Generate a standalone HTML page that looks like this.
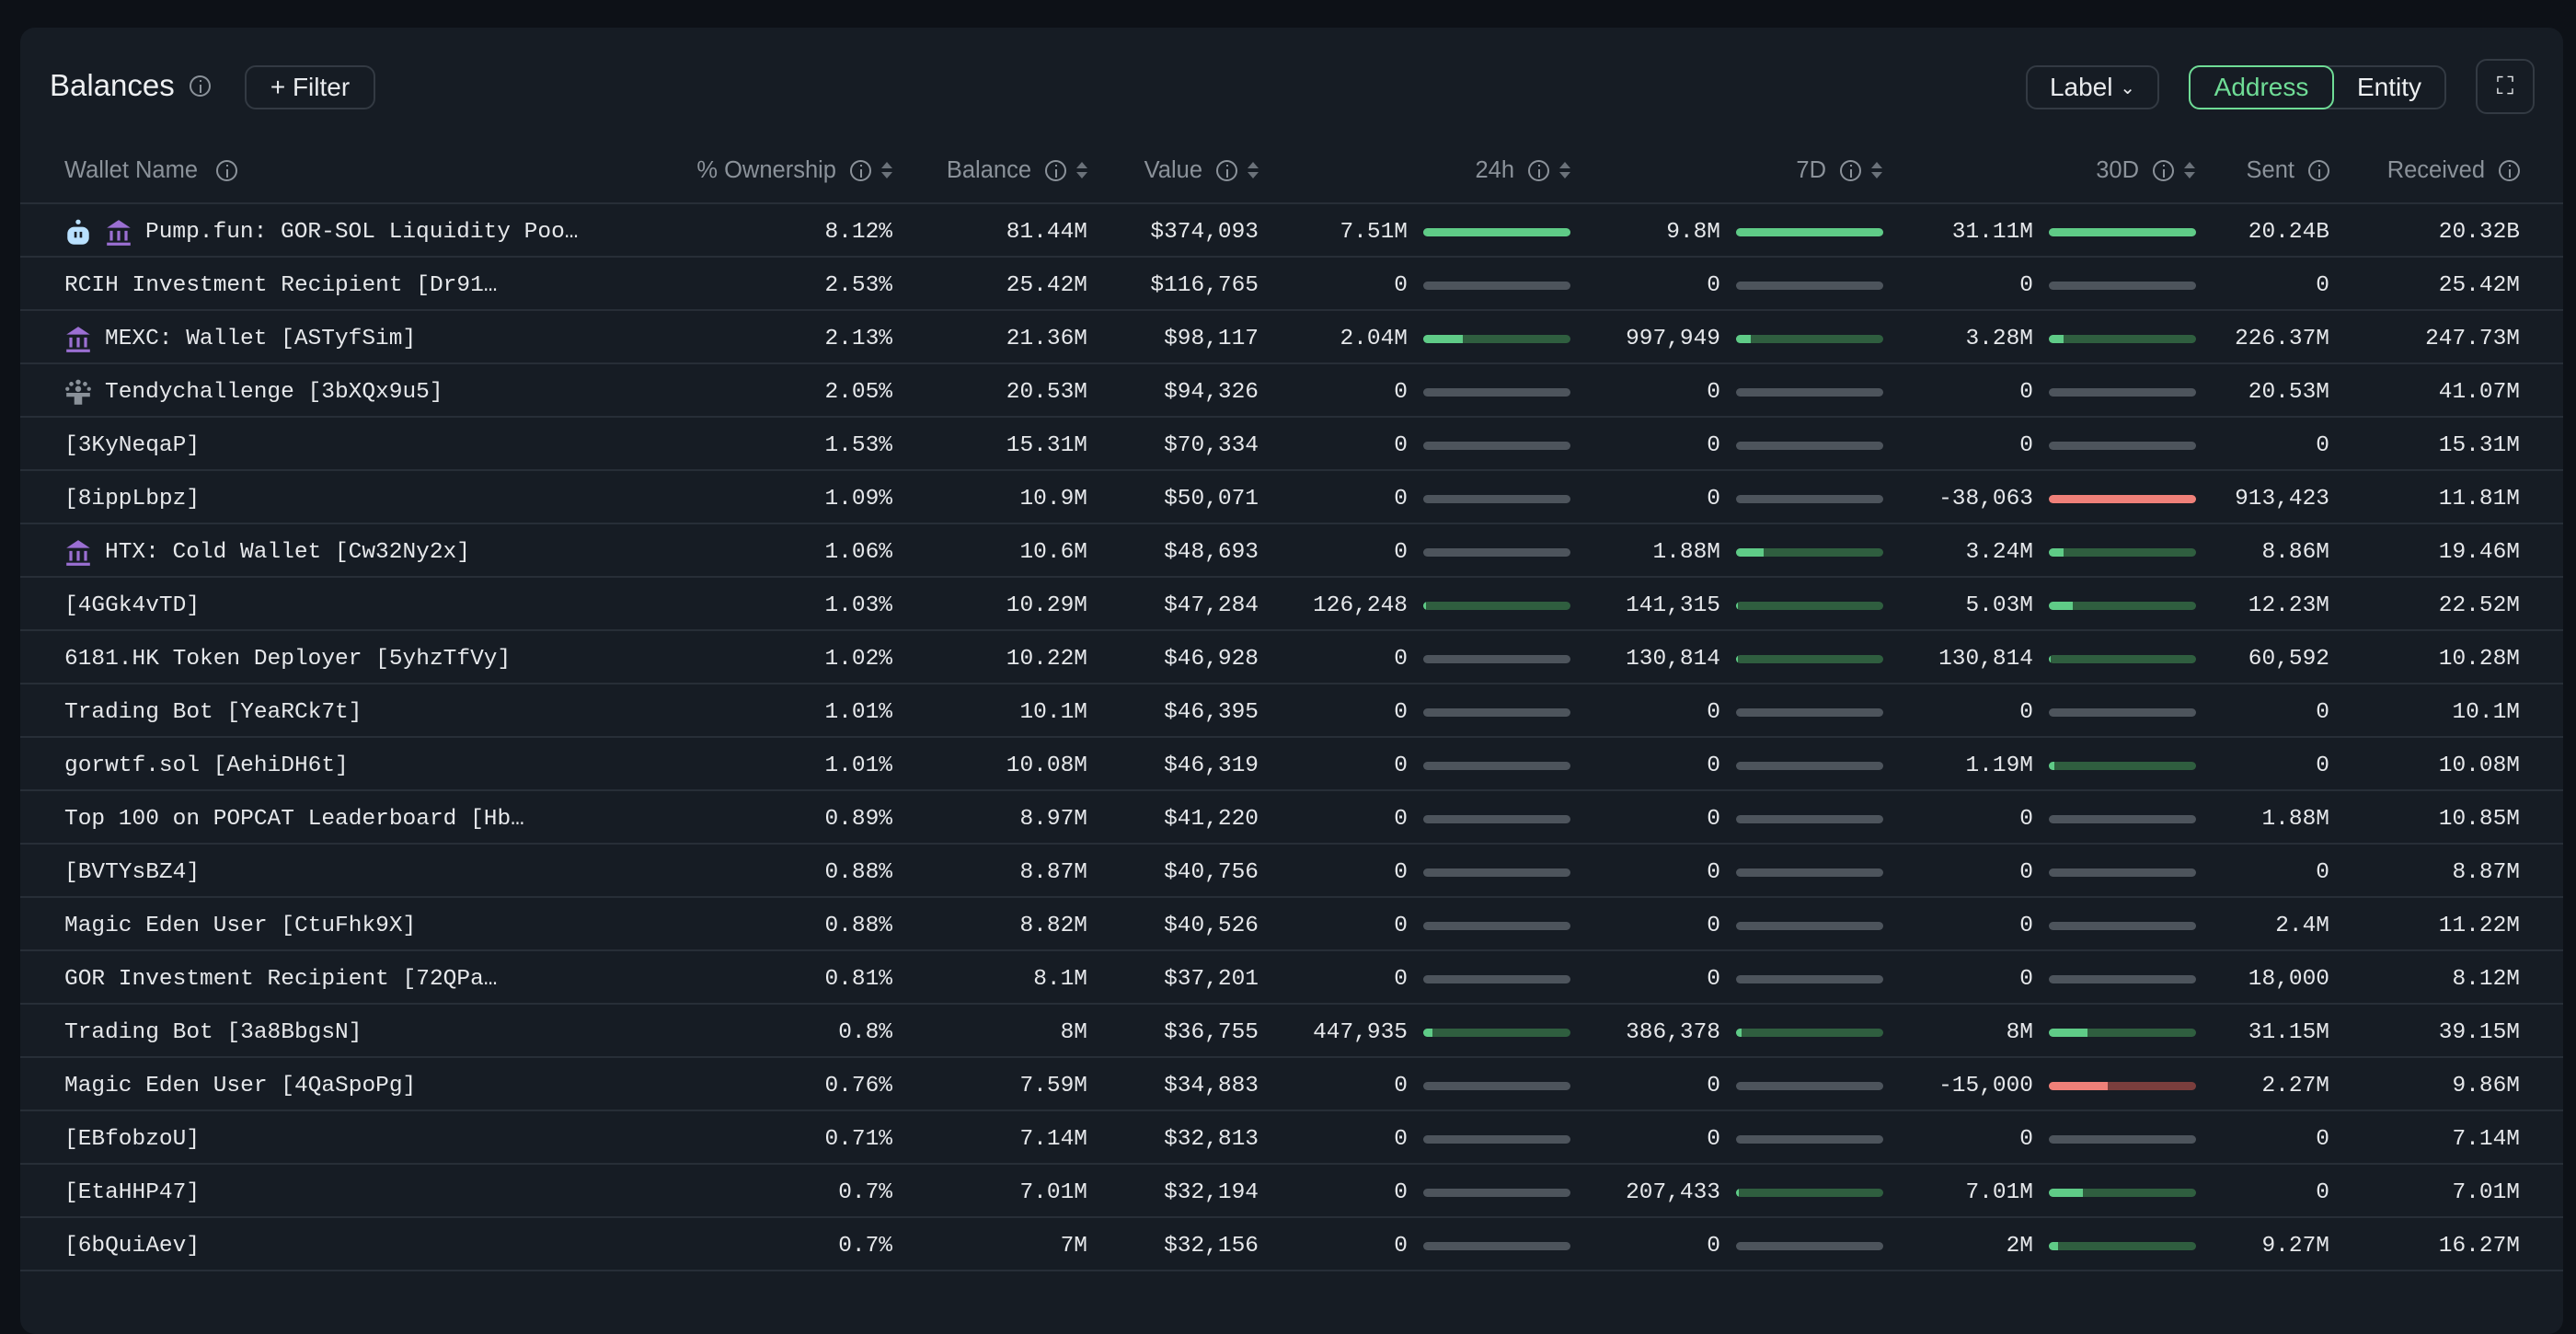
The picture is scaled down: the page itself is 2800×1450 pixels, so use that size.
<!DOCTYPE html>
<html><head><meta charset="utf-8"><style>
*{margin:0;padding:0;box-sizing:border-box}
body{width:2800px;height:1410px;background:#0d1117;overflow:hidden;font-family:"Liberation Sans",sans-serif;position:relative}
.panel{position:absolute;left:22px;top:30px;width:2764px;height:1420px;background:#161c24;border-radius:16px}
.t{position:absolute;color:#eef0f2}
.btn{position:absolute;border:2px solid #333a43;border-radius:12px;color:#e8eaed;font-size:28px;display:flex;align-items:center;justify-content:center}
.info{display:inline-block;width:23px;height:23px;border:2px solid #8b929a;border-radius:50%;position:relative;vertical-align:middle}
.info:after{content:"";position:absolute;left:8.5px;top:8px;width:2px;height:9px;background:#8b929a}
.info:before{content:"";position:absolute;left:8.5px;top:3px;width:2px;height:2px;background:#8b929a}
.hd{position:absolute;top:165px;height:40px;display:flex;align-items:center;justify-content:flex-end;gap:15px;color:#8b929a;font-size:25.5px}
.ar{display:inline-flex;flex-direction:column;gap:4px;width:12px;align-items:center;margin-left:-4px}
.ar:before{content:"";border-left:6px solid transparent;border-right:6px solid transparent;border-bottom:7px solid #6b727a}
.ar:after{content:"";border-left:6px solid transparent;border-right:6px solid transparent;border-top:7px solid #6b727a}
.ln{position:absolute;left:22px;width:2764px;height:2px;background:#272e37}
.r{position:absolute;left:0;width:2800px;height:58px;font-family:"Liberation Mono",monospace;font-size:24.5px;color:#e6e8eb;line-height:58px;margin-top:3px}
.r span{position:absolute;top:0;text-align:right;white-space:nowrap}
.r .n{text-align:left;left:70px;display:flex;align-items:center;gap:14px;height:58px}
.o{left:770px;width:200px}.ba{left:990px;width:192px}.v{left:1190px;width:178px}
.h1{left:1380px;width:150px}.h7{left:1720px;width:150px}.h30{left:2060px;width:150px}
.s{left:2330px;width:202px}.rc{left:2540px;width:199px}
.b{position:absolute;top:24px;width:160px;height:9px;border-radius:5px;overflow:hidden;background:#4d545c}
.b b{display:block;height:9px;background:#5fcb87}
.g{background:#2f5e3f}.rd{background:#7a3e3d}.rd b{background:#ef8079}
.b1{left:1547px}.b7{left:1887px}.b30{left:2227px}
</style></head><body>
<div class="panel"></div>
<div class="t" style="left:54px;top:72px;font-size:33px;line-height:42px">Balances</div>
<span class="info" style="position:absolute;left:206px;top:82px"></span>
<div class="btn" style="left:266px;top:71px;width:142px;height:48px">+&nbsp;Filter</div>
<div class="btn" style="left:2202px;top:71px;width:145px;height:48px">Label&nbsp;<span style="font-size:20px">&#8964;</span></div>
<div class="btn" style="left:2379px;top:71px;width:280px;height:48px;justify-content:flex-start"></div>
<div class="btn" style="left:2379px;top:71px;width:158px;height:48px;border-color:#6fdc96;color:#6fdc96">Address</div>
<div class="t" style="left:2537px;top:71px;width:120px;height:48px;line-height:48px;text-align:center;font-size:28px">Entity</div>
<div class="btn" style="left:2691px;top:64px;width:64px;height:60px;font-size:26px">&#x26F6;</div>

<div class="hd" style="left:70px;justify-content:flex-start;gap:20px">Wallet Name <span class="info"></span></div>
<div class="hd" style="right:1830px">% Ownership <span class="info"></span><span class="ar"></span></div>
<div class="hd" style="right:1618px">Balance <span class="info"></span><span class="ar"></span></div>
<div class="hd" style="right:1432px">Value <span class="info"></span><span class="ar"></span></div>
<div class="hd" style="right:1093px">24h <span class="info"></span><span class="ar"></span></div>
<div class="hd" style="right:754px">7D <span class="info"></span><span class="ar"></span></div>
<div class="hd" style="right:414px">30D <span class="info"></span><span class="ar"></span></div>
<div class="hd" style="right:268px">Sent <span class="info"></span></div>
<div class="hd" style="right:61px">Received <span class="info"></span></div>

<div class="ln" style="top:220px"></div><div class="ln" style="top:278px"></div><div class="ln" style="top:336px"></div><div class="ln" style="top:394px"></div><div class="ln" style="top:452px"></div><div class="ln" style="top:510px"></div><div class="ln" style="top:568px"></div><div class="ln" style="top:626px"></div><div class="ln" style="top:684px"></div><div class="ln" style="top:742px"></div><div class="ln" style="top:800px"></div><div class="ln" style="top:858px"></div><div class="ln" style="top:916px"></div><div class="ln" style="top:974px"></div><div class="ln" style="top:1032px"></div><div class="ln" style="top:1090px"></div><div class="ln" style="top:1148px"></div><div class="ln" style="top:1206px"></div><div class="ln" style="top:1264px"></div><div class="ln" style="top:1322px"></div><div class="ln" style="top:1380px"></div>

<div class="r" style="top:221px"><span class="n"><svg width="30" height="32" viewBox="0 0 28 30"><circle cx="14" cy="4" r="2.5" fill="#b9e1ff"/><rect x="3" y="9" width="22" height="18" rx="7" fill="#b9e1ff"/><rect x="10" y="14" width="2.5" height="6" fill="#161c24"/><rect x="15.5" y="14" width="2.5" height="6" fill="#161c24"/></svg><svg width="30" height="32" viewBox="0 0 28 30"><path d="M14 2 L26 10 L2 10Z" fill="#9b6fd3"/><rect x="5" y="13" width="3" height="10" fill="#9b6fd3"/><rect x="12.5" y="13" width="3" height="10" fill="#9b6fd3"/><rect x="20" y="13" width="3" height="10" fill="#9b6fd3"/><rect x="2" y="25" width="24" height="3" fill="#9b6fd3"/></svg>Pump.fun: GOR-SOL Liquidity Poo…</span><span class="o">8.12%</span><span class="ba">81.44M</span><span class="v">$374,093</span><span class="h1">7.51M</span><i class="b b1 g"><b style="width:100%"></b></i><span class="h7">9.8M</span><i class="b b7 g"><b style="width:100%"></b></i><span class="h30">31.11M</span><i class="b b30 g"><b style="width:100%"></b></i><span class="s">20.24B</span><span class="rc">20.32B</span></div>

<div class="r" style="top:279px"><span class="n">RCIH Investment Recipient [Dr91…</span><span class="o">2.53%</span><span class="ba">25.42M</span><span class="v">$116,765</span><span class="h1">0</span><i class="b b1"></i><span class="h7">0</span><i class="b b7"></i><span class="h30">0</span><i class="b b30"></i><span class="s">0</span><span class="rc">25.42M</span></div>

<div class="r" style="top:337px"><span class="n"><svg width="30" height="32" viewBox="0 0 28 30"><path d="M14 2 L26 10 L2 10Z" fill="#9b6fd3"/><rect x="5" y="13" width="3" height="10" fill="#9b6fd3"/><rect x="12.5" y="13" width="3" height="10" fill="#9b6fd3"/><rect x="20" y="13" width="3" height="10" fill="#9b6fd3"/><rect x="2" y="25" width="24" height="3" fill="#9b6fd3"/></svg>MEXC: Wallet [ASTyfSim]</span><span class="o">2.13%</span><span class="ba">21.36M</span><span class="v">$98,117</span><span class="h1">2.04M</span><i class="b b1 g"><b style="width:27%"></b></i><span class="h7">997,949</span><i class="b b7 g"><b style="width:10%"></b></i><span class="h30">3.28M</span><i class="b b30 g"><b style="width:10%"></b></i><span class="s">226.37M</span><span class="rc">247.73M</span></div>

<div class="r" style="top:395px"><span class="n"><svg width="30" height="32" viewBox="0 0 28 30" fill="#8a9199"><circle cx="14" cy="4" r="2.5"/><circle cx="7" cy="6" r="2.2"/><circle cx="21" cy="6" r="2.2"/><circle cx="3" cy="11" r="2"/><circle cx="25" cy="11" r="2"/><circle cx="14" cy="11" r="3"/><path d="M2 15 H26 V19 H18 V27 H10 V19 H2Z"/></svg>Tendychallenge [3bXQx9u5]</span><span class="o">2.05%</span><span class="ba">20.53M</span><span class="v">$94,326</span><span class="h1">0</span><i class="b b1"></i><span class="h7">0</span><i class="b b7"></i><span class="h30">0</span><i class="b b30"></i><span class="s">20.53M</span><span class="rc">41.07M</span></div>

<div class="r" style="top:453px"><span class="n">[3KyNeqaP]</span><span class="o">1.53%</span><span class="ba">15.31M</span><span class="v">$70,334</span><span class="h1">0</span><i class="b b1"></i><span class="h7">0</span><i class="b b7"></i><span class="h30">0</span><i class="b b30"></i><span class="s">0</span><span class="rc">15.31M</span></div>

<div class="r" style="top:511px"><span class="n">[8ippLbpz]</span><span class="o">1.09%</span><span class="ba">10.9M</span><span class="v">$50,071</span><span class="h1">0</span><i class="b b1"></i><span class="h7">0</span><i class="b b7"></i><span class="h30">-38,063</span><i class="b b30 rd"><b style="width:100%"></b></i><span class="s">913,423</span><span class="rc">11.81M</span></div>

<div class="r" style="top:569px"><span class="n"><svg width="30" height="32" viewBox="0 0 28 30"><path d="M14 2 L26 10 L2 10Z" fill="#9b6fd3"/><rect x="5" y="13" width="3" height="10" fill="#9b6fd3"/><rect x="12.5" y="13" width="3" height="10" fill="#9b6fd3"/><rect x="20" y="13" width="3" height="10" fill="#9b6fd3"/><rect x="2" y="25" width="24" height="3" fill="#9b6fd3"/></svg>HTX: Cold Wallet [Cw32Ny2x]</span><span class="o">1.06%</span><span class="ba">10.6M</span><span class="v">$48,693</span><span class="h1">0</span><i class="b b1"></i><span class="h7">1.88M</span><i class="b b7 g"><b style="width:19%"></b></i><span class="h30">3.24M</span><i class="b b30 g"><b style="width:10%"></b></i><span class="s">8.86M</span><span class="rc">19.46M</span></div>

<div class="r" style="top:627px"><span class="n">[4GGk4vTD]</span><span class="o">1.03%</span><span class="ba">10.29M</span><span class="v">$47,284</span><span class="h1">126,248</span><i class="b b1 g"><b style="width:2%"></b></i><span class="h7">141,315</span><i class="b b7 g"><b style="width:1%"></b></i><span class="h30">5.03M</span><i class="b b30 g"><b style="width:16%"></b></i><span class="s">12.23M</span><span class="rc">22.52M</span></div>

<div class="r" style="top:685px"><span class="n">6181.HK Token Deployer [5yhzTfVy]</span><span class="o">1.02%</span><span class="ba">10.22M</span><span class="v">$46,928</span><span class="h1">0</span><i class="b b1"></i><span class="h7">130,814</span><i class="b b7 g"><b style="width:1%"></b></i><span class="h30">130,814</span><i class="b b30 g"><b style="width:1%"></b></i><span class="s">60,592</span><span class="rc">10.28M</span></div>

<div class="r" style="top:743px"><span class="n">Trading Bot [YeaRCk7t]</span><span class="o">1.01%</span><span class="ba">10.1M</span><span class="v">$46,395</span><span class="h1">0</span><i class="b b1"></i><span class="h7">0</span><i class="b b7"></i><span class="h30">0</span><i class="b b30"></i><span class="s">0</span><span class="rc">10.1M</span></div>

<div class="r" style="top:801px"><span class="n">gorwtf.sol [AehiDH6t]</span><span class="o">1.01%</span><span class="ba">10.08M</span><span class="v">$46,319</span><span class="h1">0</span><i class="b b1"></i><span class="h7">0</span><i class="b b7"></i><span class="h30">1.19M</span><i class="b b30 g"><b style="width:4%"></b></i><span class="s">0</span><span class="rc">10.08M</span></div>

<div class="r" style="top:859px"><span class="n">Top 100 on POPCAT Leaderboard [Hb…</span><span class="o">0.89%</span><span class="ba">8.97M</span><span class="v">$41,220</span><span class="h1">0</span><i class="b b1"></i><span class="h7">0</span><i class="b b7"></i><span class="h30">0</span><i class="b b30"></i><span class="s">1.88M</span><span class="rc">10.85M</span></div>

<div class="r" style="top:917px"><span class="n">[BVTYsBZ4]</span><span class="o">0.88%</span><span class="ba">8.87M</span><span class="v">$40,756</span><span class="h1">0</span><i class="b b1"></i><span class="h7">0</span><i class="b b7"></i><span class="h30">0</span><i class="b b30"></i><span class="s">0</span><span class="rc">8.87M</span></div>

<div class="r" style="top:975px"><span class="n">Magic Eden User [CtuFhk9X]</span><span class="o">0.88%</span><span class="ba">8.82M</span><span class="v">$40,526</span><span class="h1">0</span><i class="b b1"></i><span class="h7">0</span><i class="b b7"></i><span class="h30">0</span><i class="b b30"></i><span class="s">2.4M</span><span class="rc">11.22M</span></div>

<div class="r" style="top:1033px"><span class="n">GOR Investment Recipient [72QPa…</span><span class="o">0.81%</span><span class="ba">8.1M</span><span class="v">$37,201</span><span class="h1">0</span><i class="b b1"></i><span class="h7">0</span><i class="b b7"></i><span class="h30">0</span><i class="b b30"></i><span class="s">18,000</span><span class="rc">8.12M</span></div>

<div class="r" style="top:1091px"><span class="n">Trading Bot [3a8BbgsN]</span><span class="o">0.8%</span><span class="ba">8M</span><span class="v">$36,755</span><span class="h1">447,935</span><i class="b b1 g"><b style="width:6%"></b></i><span class="h7">386,378</span><i class="b b7 g"><b style="width:4%"></b></i><span class="h30">8M</span><i class="b b30 g"><b style="width:26%"></b></i><span class="s">31.15M</span><span class="rc">39.15M</span></div>

<div class="r" style="top:1149px"><span class="n">Magic Eden User [4QaSpoPg]</span><span class="o">0.76%</span><span class="ba">7.59M</span><span class="v">$34,883</span><span class="h1">0</span><i class="b b1"></i><span class="h7">0</span><i class="b b7"></i><span class="h30">-15,000</span><i class="b b30 rd"><b style="width:40%"></b></i><span class="s">2.27M</span><span class="rc">9.86M</span></div>

<div class="r" style="top:1207px"><span class="n">[EBfobzoU]</span><span class="o">0.71%</span><span class="ba">7.14M</span><span class="v">$32,813</span><span class="h1">0</span><i class="b b1"></i><span class="h7">0</span><i class="b b7"></i><span class="h30">0</span><i class="b b30"></i><span class="s">0</span><span class="rc">7.14M</span></div>

<div class="r" style="top:1265px"><span class="n">[EtaHHP47]</span><span class="o">0.7%</span><span class="ba">7.01M</span><span class="v">$32,194</span><span class="h1">0</span><i class="b b1"></i><span class="h7">207,433</span><i class="b b7 g"><b style="width:2%"></b></i><span class="h30">7.01M</span><i class="b b30 g"><b style="width:23%"></b></i><span class="s">0</span><span class="rc">7.01M</span></div>

<div class="r" style="top:1323px"><span class="n">[6bQuiAev]</span><span class="o">0.7%</span><span class="ba">7M</span><span class="v">$32,156</span><span class="h1">0</span><i class="b b1"></i><span class="h7">0</span><i class="b b7"></i><span class="h30">2M</span><i class="b b30 g"><b style="width:6%"></b></i><span class="s">9.27M</span><span class="rc">16.27M</span></div>
</body></html>
